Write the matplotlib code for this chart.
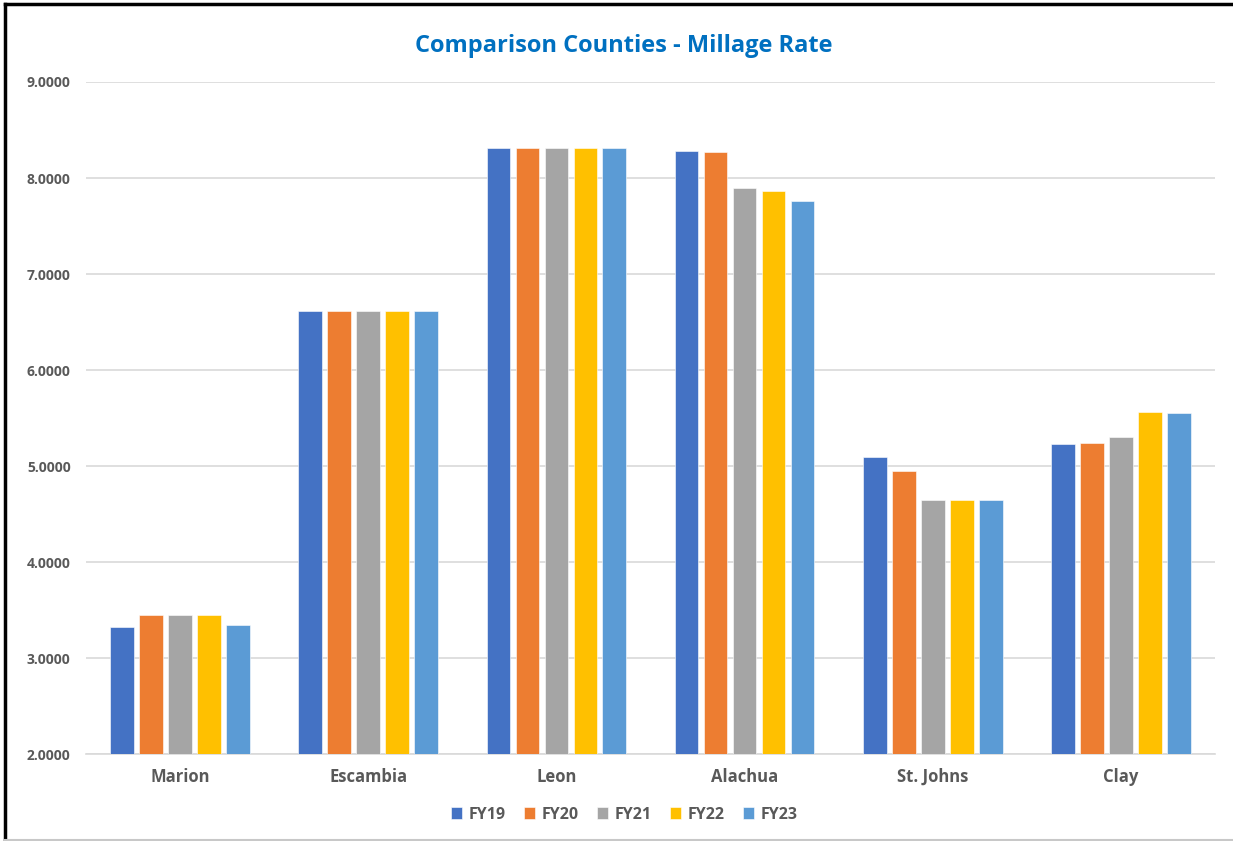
import matplotlib.pyplot as plt
import numpy as np
from matplotlib.lines import Line2D

counties = ["Marion", "Escambia", "Leon", "Alachua", "St. Johns", "Clay"]
years = ["FY19", "FY20", "FY21", "FY22", "FY23"]

fy19 = [3.3250, 6.6165, 8.3144, 8.2800, 5.0959, 5.2320]
fy20 = [3.4500, 6.6165, 8.3144, 8.2700, 4.9500, 5.2360]
fy21 = [3.4500, 6.6165, 8.3144, 7.8935, 4.6495, 5.2990]
fy22 = [3.4500, 6.6165, 8.3144, 7.8650, 4.6495, 5.5625]
fy23 = [3.3450, 6.6165, 8.3144, 7.7650, 4.6495, 5.5520]

colors = ["#4472C4", "#ED7D31", "#A5A5A5", "#FFC000", "#5B9BD5"]

plt.rcParams['font.family'] = ['Open Sans', 'DejaVu Sans']

fig = plt.figure(figsize=(12.33, 8.41), dpi=100)
ax = fig.add_axes([0.0697, 0.1034, 0.9157, 0.7991])

x = np.arange(len(counties))
pitch = 0.154
width = 0.126
series = [fy19, fy20, fy21, fy22, fy23]
for i, (vals, yr) in enumerate(zip(series, years)):
    ax.bar(x + (i - 2) * pitch, vals, width=width, color=colors[i], label=yr,
           edgecolor="#FFFFFF", linewidth=0.4, zorder=3)

ax.set_xlim(-0.5, len(counties) - 0.5)
ax.set_ylim(2, 9)
ax.set_yticks(np.arange(2, 10, 1))
ax.set_yticklabels(["%.4f" % v for v in np.arange(2, 10, 1)])
ax.set_xticks(x)
ax.set_xticklabels(counties)
ax.yaxis.grid(True, color="#D9D9D9", linewidth=1.2, zorder=0)
for s in ["top", "right", "left"]:
    ax.spines[s].set_visible(False)
ax.spines["bottom"].set_color("#D9D9D9")
ax.spines["bottom"].set_linewidth(1.2)
ax.tick_params(axis="both", length=0)
ax.tick_params(axis="y", pad=11, labelsize=10, labelcolor="#595959")
ax.tick_params(axis="x", pad=10, labelsize=12, labelcolor="#595959")
for lbl in ax.get_xticklabels() + ax.get_yticklabels():
    lbl.set_fontweight("bold")

fig.text(0.506, 0.945, "Comparison Counties - Millage Rate", ha="center", va="center",
         fontsize=17, fontweight="bold", color="#0070C0")

leg = ax.legend(loc="center", bbox_to_anchor=(0.477, -0.09), ncol=5, frameon=False,
                handlelength=0.7, handleheight=0.7, handletextpad=0.4, columnspacing=1.15,
                prop={"weight": "bold", "size": 11.5})
for t in leg.get_texts():
    t.set_color("#595959")

# screenshot frame
fig.add_artist(Line2D([0.004, 0.004], [0, 0.995], color="black", linewidth=2.5))
fig.add_artist(Line2D([0.004, 1.0], [0.995, 0.995], color="black", linewidth=2.5))
fig.add_artist(Line2D([0.004, 1.0], [0.001, 0.001], color="#C8C8C8", linewidth=1.5))

fig.savefig("out.png", dpi=100)
